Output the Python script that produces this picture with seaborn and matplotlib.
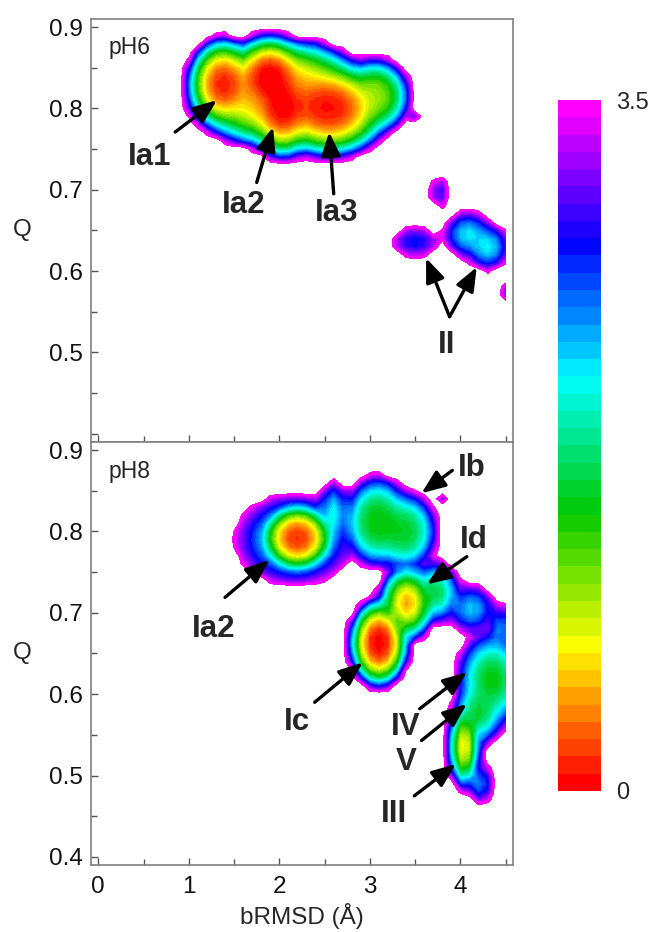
import numpy as np
import matplotlib
matplotlib.use("Agg")
import matplotlib.pyplot as plt
from matplotlib.colors import ListedColormap
from matplotlib.ticker import MultipleLocator
import seaborn as sns

sns.set_theme(style="white")
plt.rcParams["font.family"] = ["Liberation Sans", "DejaVu Sans"]

# histogram grid (bRMSD in Angstrom, fraction of native contacts Q)
brmsd_grid = np.round(np.arange(0.0, 4.5001, 0.1), 2)
q_grid = np.round(np.arange(0.40, 0.9001, 0.01), 3)

# free-energy basins at pH 6: centre, spread, depth (kcal/mol), radial exponent
ph6_x = [2.00, 1.38, 1.89, 2.04, 2.55, 3.05, 3.78, 3.50, 4.08, 4.30, 4.48, 2.40, 2.50, 3.50]
ph6_q = [0.818, 0.830, 0.838, 0.800, 0.800, 0.815, 0.697, 0.636, 0.645, 0.630, 0.574, 0.880, 0.870, 0.790]
ph6_wx = [0.75, 0.27, 0.30, 0.28, 0.45, 0.30, 0.15, 0.30, 0.24, 0.22, 0.10, 0.03, 0.03, 0.03]
ph6_wq = [0.050, 0.038, 0.035, 0.041, 0.040, 0.035, 0.025, 0.022, 0.026, 0.026, 0.016, 0.003, 0.003, 0.003]
ph6_g = [0.45, 0.12, 0.00, 0.05, 0.08, 1.00, 2.85, 2.70, 2.10, 2.05, 3.00, 3.00, 3.00, 3.00]
ph6_p = [3.0, 2.5, 2.5, 2.5, 2.5, 2.5, 2.0, 2.0, 2.0, 2.0, 2.0, 2.0, 2.0, 2.0]

# free-energy basins at pH 8
ph8_x = [2.20, 2.17, 2.60, 3.08, 3.38, 3.10, 3.41, 3.72, 4.12, 4.45, 4.35, 4.20, 4.04, 4.22, 3.80]
ph8_q = [0.792, 0.790, 0.822, 0.812, 0.800, 0.663, 0.712, 0.725, 0.705, 0.680, 0.618, 0.578, 0.536, 0.490, 0.840]
ph8_wx = [0.28, 0.54, 0.15, 0.30, 0.30, 0.22, 0.20, 0.22, 0.25, 0.15, 0.30, 0.22, 0.12, 0.15, 0.03]
ph8_wq = [0.029, 0.047, 0.035, 0.045, 0.040, 0.036, 0.030, 0.030, 0.028, 0.030, 0.045, 0.032, 0.034, 0.025, 0.003]
ph8_g = [0.15, 1.90, 2.00, 1.40, 1.50, 0.00, 0.45, 1.55, 2.20, 2.35, 1.40, 1.50, 0.60, 2.40, 3.00]
ph8_p = [2.5, 2.0, 2.0, 2.5, 2.5, 2.5, 2.0, 2.0, 2.0, 2.0, 2.0, 2.0, 2.0, 2.0, 2.0]

KT = 0.3            # smoothing temperature for combining basins
F_MAX = 3.5
F_UNSAMPLED = 3.8   # value assigned to bins that were never visited

levels = np.linspace(0.0, F_MAX, 41)
palette = sns.blend_palette(
    ["#ff0000", "#ffff00", "#00c800", "#00ffff", "#0000ff", "#ff00ff"], n_colors=40
)
cmap = ListedColormap(palette)


def landscape(bx, bq, wx, wq, g, p):
    X, Y = np.meshgrid(brmsd_grid, q_grid)
    weight = np.zeros_like(X)
    for x0, q0, sx, sq, g0, p0 in zip(bx, bq, wx, wq, g, p):
        r2 = ((X - x0) / sx) ** 2 + ((Y - q0) / sq) ** 2
        weight += np.exp(-(g0 + r2 ** (p0 / 2)) / KT)
    F = -KT * np.log(weight + 1e-300)
    F = np.clip(F, 0.0, None)
    F = np.where(F > F_MAX, F_UNSAMPLED, F)
    return X, Y, F


fig = plt.figure(figsize=(6.52, 9.32), dpi=100)
ax_top = fig.add_axes([0.1396, 0.5258, 0.6472, 0.4539])
ax_bot = fig.add_axes([0.1396, 0.0719, 0.6472, 0.4539])
cax = fig.add_axes([0.856, 0.1513, 0.066, 0.7414])

X, Y, F6 = landscape(ph6_x, ph6_q, ph6_wx, ph6_wq, ph6_g, ph6_p)
_, _, F8 = landscape(ph8_x, ph8_q, ph8_wx, ph8_wq, ph8_g, ph8_p)
cs = ax_top.contourf(X, Y, F6, levels=levels, cmap=cmap)
ax_bot.contourf(X, Y, F8, levels=levels, cmap=cmap)

TICK_FS = 17.5
for ax in (ax_top, ax_bot):
    ax.set_xlim(-0.08, 4.58)
    ax.set_ylim(0.39, 0.91)
    ax.xaxis.set_major_locator(MultipleLocator(1))
    ax.xaxis.set_minor_locator(MultipleLocator(0.5))
    ax.yaxis.set_major_locator(MultipleLocator(0.1))
    ax.yaxis.set_minor_locator(MultipleLocator(0.05))
    ax.tick_params(which="both", direction="in", color="#555555", width=1.0,
                   top=False, right=False, left=True, bottom=True,
                   labelsize=TICK_FS, labelcolor="#111111")
    ax.tick_params(which="major", length=5)
    ax.tick_params(which="minor", length=4)
    ax.tick_params(axis="x", pad=8)
    ax.tick_params(axis="y", pad=6)
    for sp in ax.spines.values():
        sp.set_color("#808080")
        sp.set_linewidth(1.2)
    ax.set_ylabel("Q", rotation=0, fontsize=TICK_FS, va="center")
    ax.yaxis.set_label_coords(-0.163, 0.5)
    ax.set_facecolor("white")

ax_top.tick_params(axis="x", labelbottom=False)
ax_top.set_yticks([0.4, 0.5, 0.6, 0.7, 0.8, 0.9])
ax_top.set_yticklabels(["", "0.5", "0.6", "0.7", "0.8", "0.9"])
ax_bot.set_yticks([0.4, 0.5, 0.6, 0.7, 0.8, 0.9])
ax_bot.set_yticklabels(["0.4", "0.5", "0.6", "0.7", "0.8", "0.9"])
ax_bot.set_xlabel("bRMSD (Å)", fontsize=TICK_FS)
ax_bot.xaxis.set_label_coords(0.5, -0.09)

ax_top.text(0.11, 0.875, "pH6", fontsize=16.5, ha="left", va="center")
ax_bot.text(0.11, 0.874, "pH8", fontsize=16.5, ha="left", va="center")

arrow_kw = dict(arrowstyle="-|>,head_length=0.8,head_width=0.32", color="black",
                lw=2.4, mutation_scale=18, shrinkA=0, shrinkB=0)
LABEL_FS = 22.5

# (text, text position, list of (arrow tail, arrow head))
top_labels = [
    ("Ia1", (0.57, 0.740), [((0.85, 0.771), (1.31, 0.810))]),
    ("Ia2", (1.60, 0.681), [((1.75, 0.709), (1.93, 0.777))]),
    ("Ia3", (2.63, 0.671), [((2.60, 0.695), (2.55, 0.771))]),
    ("II", (3.85, 0.509), [((3.88, 0.544), (3.62, 0.616)),
                           ((3.88, 0.544), (4.18, 0.605))]),
]
bot_labels = [
    ("Ia2", (1.27, 0.680), [((1.40, 0.719), (1.89, 0.765))]),
    ("Ic", (2.19, 0.566), [((2.39, 0.590), (2.92, 0.639))]),
    ("Ib", (4.13, 0.878), [((3.91, 0.875), (3.57, 0.847))]),
    ("Id", (4.15, 0.790), [((4.07, 0.769), (3.63, 0.735))]),
    ("IV", (3.39, 0.560), [((3.55, 0.582), (4.07, 0.627))]),
    ("V", (3.40, 0.517), [((3.57, 0.543), (4.07, 0.588))]),
    ("III", (3.27, 0.453), [((3.49, 0.475), (3.95, 0.514))]),
]
for ax, labels in ((ax_top, top_labels), (ax_bot, bot_labels)):
    for txt, pos, arrows in labels:
        ax.text(pos[0], pos[1], txt, fontsize=LABEL_FS, fontweight="bold",
                ha="center", va="center")
        for tail, head in arrows:
            ax.annotate("", xy=head, xytext=tail, arrowprops=arrow_kw)

cb = fig.colorbar(cs, cax=cax, ticks=[0, 3.5])
cb.set_ticklabels(["0", "3.5"])
cb.outline.set_visible(False)
cax.tick_params(length=0, labelsize=17, pad=11)

fig.savefig("out.png", dpi=100, facecolor="white")
